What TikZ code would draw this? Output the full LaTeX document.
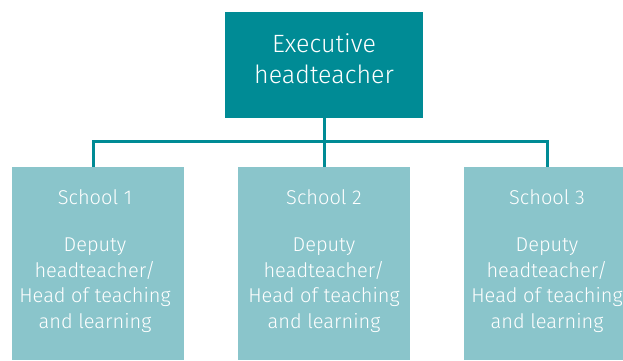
\documentclass[tikz,border=0pt]{standalone}
\usepackage{fontspec}
\setmainfont{Fira Sans}[UprightFont={* Light}]
\definecolor{dark}{HTML}{008B95}
\definecolor{light}{HTML}{8AC5CB}
\begin{document}
\begin{tikzpicture}[x=1pt,y=-1pt,
  topbox/.style={fill=dark, draw=none, minimum width=198pt, minimum height=106pt, inner sep=0pt},
  schoolbox/.style={fill=light, draw=none, minimum width=172pt, minimum height=193pt, inner sep=0pt},
  toptext/.style={text=white, align=center, inner sep=0pt, font=\fontsize{25}{31}\selectfont},
  schooltext/.style={text=white, align=center, inner sep=0pt, font=\fontsize{20}{25.5}\selectfont},
  conn/.style={draw=dark, line width=3pt, line join=miter}]
\useasboundingbox (0,0) rectangle (623,360);
\clip (0,0) rectangle (623,360);
\node[topbox] (top) at (324,65) {};
\node[toptext] (toptxt) at (324,59) {Executive\\headteacher};
\node[schoolbox] (s1) at (98,263.5) {};
\node[schoolbox] (s2) at (324,263.5) {};
\node[schoolbox] (s3) at (550,263.5) {};
\node[schooltext, anchor=base] (l1) at (95,204) {School 1};
\node[schooltext, anchor=base] (l2) at (324,204) {School 2};
\node[schooltext, anchor=base] (l3) at (547,204) {School 3};
\node[schooltext] (d1) at (95,285) {Deputy\\headteacher/\\Head of teaching\\and learning};
\node[schooltext] (d2) at (324,285) {Deputy\\headteacher/\\Head of teaching\\and learning};
\node[schooltext] (d3) at (547,285) {Deputy\\headteacher/\\Head of teaching\\and learning};
\coordinate (bus) at (0,141);
\draw[conn] (top.south) -- (top.south |- bus);
\draw[conn] ([xshift=-5pt]s1.north) |- ([xshift=-3pt]s3.north |- bus) -- ([xshift=-3pt]s3.north);
\draw[conn] (s2.north) -- (s2.north |- bus);
\end{tikzpicture}
\end{document}
